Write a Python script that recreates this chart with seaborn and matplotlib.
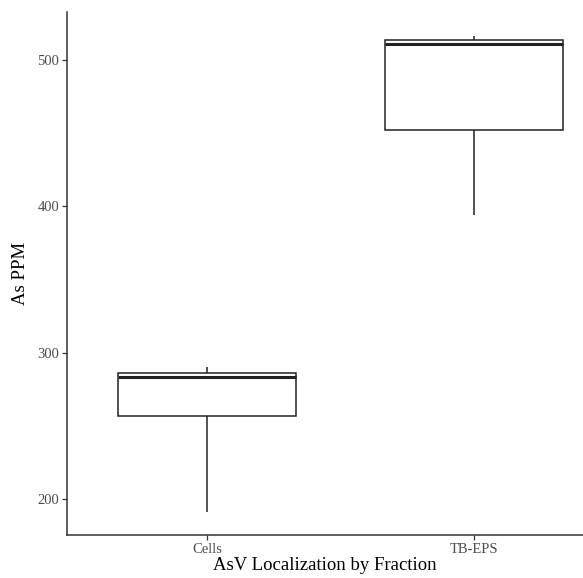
import numpy as np
import pandas as pd
import seaborn as sns
import matplotlib
matplotlib.use("Agg")
import matplotlib.pyplot as plt

# Arsenic concentration (ppm) per localization fraction
categories = ["Cells", "TB-EPS"]
cells_ppm = [191.0, 256.7, 283.7, 286.0, 290.2]
tbeps_ppm = [394.0, 452.0, 511.0, 513.7, 516.4]
y_ticks = [200, 300, 400, 500]

df = pd.DataFrame({
    "fraction": [categories[0]] * len(cells_ppm) + [categories[1]] * len(tbeps_ppm),
    "ppm": cells_ppm + tbeps_ppm,
})

sns.set_theme(style="white")
plt.rcParams["font.family"] = ["Liberation Serif", "DejaVu Serif"]

W, H = 583, 578
fig = plt.figure(figsize=(W / 100, H / 100), dpi=100)
ax = fig.add_axes([67 / W, 1 - 535 / H, (W - 67) / W, (535 - 12) / H])

line_kw = dict(color="#222222", linewidth=1.1)
sns.boxplot(
    data=df, x="fraction", y="ppm", order=categories, ax=ax,
    width=0.667, whis=(0, 100), fliersize=0,
    boxprops=dict(facecolor="white", edgecolor="#222222", linewidth=1.1),
    whiskerprops=line_kw, capprops=dict(linewidth=0),
    medianprops=dict(color="#222222", linewidth=2.2),
)

ax.set_xlim(-0.524, 1.408)
ax.set_ylim(175.4, 532.8)
ax.set_yticks(y_ticks)
ax.set_yticklabels([str(t) for t in y_ticks])

for side in ["top", "right"]:
    ax.spines[side].set_visible(False)
for side in ["left", "bottom"]:
    ax.spines[side].set_color("#333333")
    ax.spines[side].set_linewidth(1.1)

ax.tick_params(axis="both", which="major", length=3.5, width=0.9,
               color="#333333", labelcolor="#4D4D4D", labelsize=10.5,
               left=True, bottom=True, pad=2)

ax.set_xlabel("AsV Localization by Fraction", fontsize=13.5, color="black", labelpad=1)
ax.set_ylabel("As PPM", fontsize=13.5, color="black", labelpad=6)

fig.savefig("out.png", dpi=100, facecolor="white")
